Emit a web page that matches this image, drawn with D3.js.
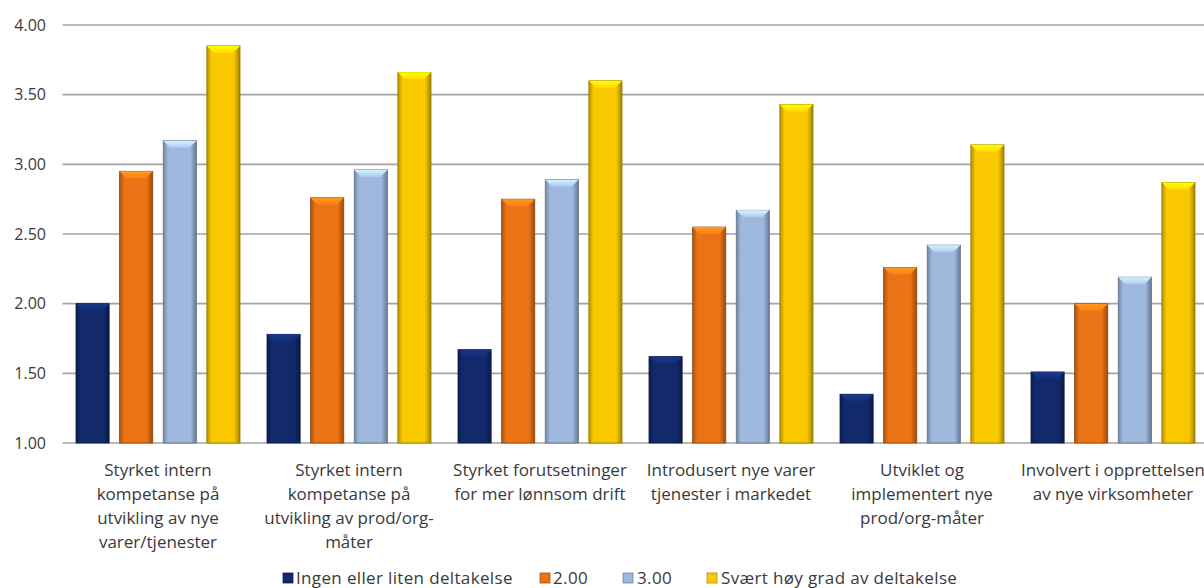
<!DOCTYPE html>
<html>
<head>
<meta charset="utf-8">
<script src="https://cdn.jsdelivr.net/npm/d3@7/dist/d3.min.js"></script>
<style>
  html, body { margin: 0; padding: 0; background: #ffffff; }
  svg { display: block; }
  text { font-family: "Open Sans", Lato, sans-serif; fill: #3a3a3a; }
</style>
</head>
<body>
<svg id="chart" width="1204" height="588"></svg>
<script>
// Categories (each label split into its display lines)
const categories = [
  ["Styrket intern", "kompetanse på", "utvikling av nye", "varer/tjenester"],
  ["Styrket intern", "kompetanse på", "utvikling av prod/org-", "måter"],
  ["Styrket forutsetninger", "for mer lønnsom drift"],
  ["Introdusert nye varer", "tjenester i markedet"],
  ["Utviklet og", "implementert nye", "prod/org-måter"],
  ["Involvert i opprettelsen", "av nye virksomheter"]
];
const seriesNames = ["Ingen eller liten deltakelse", "2.00", "3.00", "Svært høy grad av deltakelse"];
const seriesColors = ["#12296b", "#ea7316", "#9fb8de", "#f9c800"];

// Mean scores per category for each series
const ingen   = [2.00, 1.78, 1.67, 1.62, 1.35, 1.51];
const grad2   = [2.95, 2.76, 2.75, 2.55, 2.26, 2.00];
const grad3   = [3.17, 2.96, 2.89, 2.67, 2.42, 2.19];
const svaertHoy = [3.85, 3.66, 3.60, 3.43, 3.14, 2.87];
const seriesValues = [ingen, grad2, grad3, svaertHoy];

const yTicks = [1.00, 1.50, 2.00, 2.50, 3.00, 3.50, 4.00];

const svg = d3.select("#chart");
const plot = { left: 62.5, right: 1208.5, top: 25, bottom: 443 };

const catKeys = categories.map((c, i) => i);
const x0 = d3.scaleBand().domain(catKeys).range([plot.left, plot.right]).paddingInner(0).paddingOuter(0);
const x1 = d3.scaleBand().domain(d3.range(seriesNames.length)).range([13.5, 177.5]).paddingInner(0.24).paddingOuter(0);
const y = d3.scaleLinear().domain([1, 4]).range([plot.bottom, plot.top]);

// Gradients giving each bar a bevelled look
const defs = svg.append("defs");
seriesColors.forEach((c, i) => {
  const base = d3.color(c);
  const dark = base.darker(0.9);
  const g = defs.append("linearGradient").attr("id", "side" + i)
    .attr("x1", "0%").attr("x2", "100%").attr("y1", "0%").attr("y2", "0%");
  g.append("stop").attr("offset", "0%").attr("stop-color", dark);
  g.append("stop").attr("offset", "14%").attr("stop-color", base);
  g.append("stop").attr("offset", "82%").attr("stop-color", base);
  g.append("stop").attr("offset", "100%").attr("stop-color", base.darker(1.2));
  const t = defs.append("linearGradient").attr("id", "cap" + i)
    .attr("x1", "0%").attr("x2", "0%").attr("y1", "0%").attr("y2", "100%");
  t.append("stop").attr("offset", "0%").attr("stop-color", base.brighter(0.8));
  t.append("stop").attr("offset", "100%").attr("stop-color", base.brighter(0.25));
});

// Gridlines
svg.append("g")
  .selectAll("line").data(yTicks).join("line")
  .attr("x1", plot.left).attr("x2", 1204)
  .attr("y1", d => y(d)).attr("y2", d => y(d))
  .attr("stroke", "#a3a3a3").attr("stroke-width", 1.6);

// Y axis labels
const yAxis = d3.axisLeft(y).tickValues(yTicks).tickFormat(d3.format(".2f")).tickSize(0).tickPadding(0);
const yg = svg.append("g").attr("transform", "translate(46,0)").call(yAxis);
yg.select(".domain").remove();
yg.selectAll("text").style("font-family", "'Open Sans', Lato, sans-serif").style("font-size", "16px").attr("fill", "#3a3a3a");

// Bars
const bevel = 7;
const groups = svg.append("g").selectAll("g").data(catKeys).join("g")
  .attr("transform", d => `translate(${x0(d)},0)`);

groups.each(function(ci) {
  const g = d3.select(this);
  seriesValues.forEach((vals, si) => {
    const v = vals[ci];
    const bx = x1(si), bw = x1.bandwidth();
    const by = y(v), bh = y(1) - y(v);
    const bar = g.append("g");
    bar.append("rect")
      .attr("x", bx).attr("y", by).attr("width", bw).attr("height", bh)
      .attr("fill", `url(#side${si})`)
      .attr("stroke", d3.color(seriesColors[si]).darker(1.4)).attr("stroke-width", 0.8);
    bar.append("path")
      .attr("d", `M${bx},${by} L${bx + bw},${by} L${bx + bw - bevel},${by + bevel} L${bx + bevel},${by + bevel} Z`)
      .attr("fill", `url(#cap${si})`);
  });
});

// Category labels
const labels = svg.append("g").selectAll("text").data(catKeys).join("text")
  .attr("text-anchor", "middle")
  .style("font-size", "17px")
  .attr("x", d => x0(d) + x0.bandwidth() / 2)
  .attr("y", 476);
labels.each(function(ci) {
  d3.select(this).selectAll("tspan").data(categories[ci]).join("tspan")
    .attr("x", x0(ci) + x0.bandwidth() / 2)
    .attr("dy", (d, i) => i === 0 ? 0 : 24)
    .text(d => d);
});

// Legend
const legendItems = [
  { sq: 283, tx: 296 },
  { sq: 540, tx: 553 },
  { sq: 623, tx: 637 },
  { sq: 707, tx: 721 }
];
const leg = svg.append("g");
seriesNames.forEach((name, i) => {
  const c = d3.color(seriesColors[i]);
  leg.append("rect").attr("x", legendItems[i].sq).attr("y", 573).attr("width", 10).attr("height", 10)
    .attr("fill", c).attr("stroke", c.darker(1)).attr("stroke-width", 0.8);
  leg.append("text").attr("x", legendItems[i].tx).attr("y", 584)
    .style("font-size", "17px").style("letter-spacing", "0.35px").text(name);
});
</script>
</body>
</html>
